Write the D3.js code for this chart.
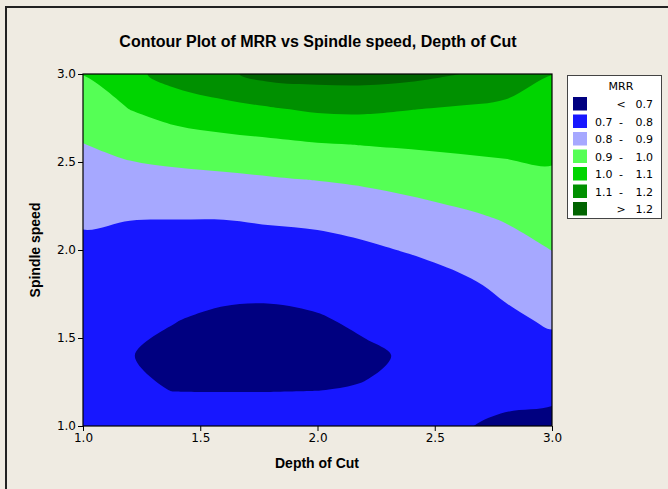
<!DOCTYPE html>
<html>
<head>
<meta charset="utf-8">
<style>
  body {
    margin: 0;
    background-color: #efebe2;
  }
  svg {
    display: block;
  }
  .tick text {
    font-family: "DejaVu Sans", sans-serif;
    font-size: 12px;
    fill: #000;
  }
  .axis-title, .chart-title {
    font-family: "Liberation Sans", Arial, sans-serif;
    font-weight: bold;
    fill: #000;
  }
  .legend text {
    font-family: "DejaVu Sans", sans-serif;
    font-size: 11px;
    fill: #000;
  }
</style>
</head>
<body>
<svg width="668" height="489"></svg>

<script src="https://cdn.jsdelivr.net/npm/d3@7"></script>
<script>
// grid of MRR values
// columns: depth of cut, rows: spindle speed (bottom row first)
const depthLevels = [1.0, 1.2, 1.4, 1.6, 1.8, 2.0, 2.2, 2.4, 2.6, 2.8, 3.0]
const speedLevels = [1.0, 1.2, 1.4, 1.6, 1.8, 2.0, 2.2, 2.4, 2.6, 2.8, 3.0]

const mrrRows = [
  [0.760, 0.755, 0.751, 0.756, 0.761, 0.764, 0.745, 0.725, 0.706, 0.688, 0.674],
  [0.735, 0.706, 0.699, 0.698, 0.698, 0.700, 0.706, 0.715, 0.712, 0.719, 0.720],
  [0.728, 0.702, 0.683, 0.676, 0.673, 0.677, 0.684, 0.712, 0.727, 0.750, 0.766],
  [0.737, 0.715, 0.701, 0.685, 0.681, 0.691, 0.716, 0.735, 0.748, 0.781, 0.812],
  [0.755, 0.735, 0.734, 0.722, 0.721, 0.732, 0.752, 0.760, 0.780, 0.818, 0.856],
  [0.778, 0.760, 0.768, 0.763, 0.765, 0.774, 0.787, 0.806, 0.834, 0.864, 0.901],
  [0.816, 0.808, 0.805, 0.806, 0.815, 0.820, 0.835, 0.865, 0.887, 0.911, 0.942],
  [0.857, 0.866, 0.873, 0.881, 0.892, 0.903, 0.917, 0.931, 0.950, 0.967, 0.984],
  [0.898, 0.929, 0.952, 0.967, 0.980, 0.994, 1.003, 1.011, 1.018, 1.023, 1.024],
  [0.949, 1.001, 1.043, 1.068, 1.091, 1.113, 1.116, 1.102, 1.089, 1.081, 1.063],
  [1.002, 1.076, 1.140, 1.184, 1.232, 1.238, 1.240, 1.228, 1.201, 1.150, 1.101]
]

const levels = [0.7, 0.8, 0.9, 1.0, 1.1, 1.2]
const bandColors = ["#000080", "#1717ff", "#a6a8ff", "#55ff55", "#00d500", "#009000", "#006300"]
const legendLabels = [
  ["", "<", "0.7"],
  ["0.7", "-", "0.8"],
  ["0.8", "-", "0.9"],
  ["0.9", "-", "1.0"],
  ["1.0", "-", "1.1"],
  ["1.1", "-", "1.2"],
  ["", ">", "1.2"]
]
const xTicks = [1.0, 1.5, 2.0, 2.5, 3.0]
const yTicks = [1.0, 1.5, 2.0, 2.5, 3.0]

const svg = d3.select("svg")

// outer frame (only top and left edges fall inside the picture)
svg.append("rect")
  .attr("x", 6).attr("y", 7)
  .attr("width", 700).attr("height", 500)
  .attr("fill", "#efebe2")
  .attr("stroke", "#222")
  .attr("stroke-width", 2)

const plot = { left: 83, right: 552, top: 74, bottom: 426 }

const x = d3.scaleLinear().domain([1, 3]).range([plot.left, plot.right])
const y = d3.scaleLinear().domain([1, 3]).range([plot.bottom, plot.top])

svg.append("text")
  .attr("class", "chart-title")
  .attr("x", 318).attr("y", 47)
  .attr("text-anchor", "middle")
  .attr("font-size", 16)
  .text("Contour Plot of MRR vs Spindle speed, Depth of Cut")

// contours
svg.append("clipPath").attr("id", "plot-clip")
  .append("rect")
  .attr("x", plot.left).attr("y", plot.top)
  .attr("width", plot.right - plot.left)
  .attr("height", plot.bottom - plot.top)

const n = depthLevels.length
const m = speedLevels.length
const values = mrrRows.flat()
const dx = depthLevels[1] - depthLevels[0]
const dy = speedLevels[1] - speedLevels[0]

// d3.contours puts value i at grid coordinate i + 0.5
const toPx = p => [
  x(depthLevels[0] + (p[0] - 0.5) * dx),
  y(speedLevels[0] + (p[1] - 0.5) * dy)
]

// rounded outline through the contour vertices, like the original
const ringLine = d3.line().curve(d3.curveCatmullRomClosed.alpha(0.5))

function bandPath(multi) {
  return multi.coordinates.map(polygon =>
    polygon.map(ring => ringLine(ring.slice(0, -1).map(toPx))).join("")
  ).join("")
}

const contours = d3.contours().size([n, m]).thresholds(levels)(values)

const g = svg.append("g").attr("clip-path", "url(#plot-clip)")

g.append("rect")
  .attr("x", plot.left).attr("y", plot.top)
  .attr("width", plot.right - plot.left)
  .attr("height", plot.bottom - plot.top)
  .attr("fill", bandColors[0])

g.selectAll("path.band")
  .data(contours)
  .join("path")
  .attr("class", "band")
  .attr("d", bandPath)
  .attr("fill-rule", "evenodd")
  .attr("fill", (d, i) => bandColors[i + 1])

svg.append("rect")
  .attr("x", plot.left).attr("y", plot.top)
  .attr("width", plot.right - plot.left)
  .attr("height", plot.bottom - plot.top)
  .attr("fill", "none")
  .attr("stroke", "#000")
  .attr("stroke-width", 1.2)

// axes
const xAxis = svg.append("g")
  .attr("transform", `translate(0,${plot.bottom})`)
  .call(d3.axisBottom(x).tickValues(xTicks).tickFormat(d3.format(".1f")).tickSize(5).tickPadding(2))
const yAxis = svg.append("g")
  .attr("transform", `translate(${plot.left},0)`)
  .call(d3.axisLeft(y).tickValues(yTicks).tickFormat(d3.format(".1f")).tickSize(5).tickPadding(2))

xAxis.select(".domain").remove()
yAxis.select(".domain").remove()
svg.selectAll(".tick line").attr("stroke", "#000")

svg.append("text")
  .attr("class", "axis-title")
  .attr("x", 317).attr("y", 468)
  .attr("text-anchor", "middle")
  .attr("font-size", 14)
  .text("Depth of Cut")

svg.append("text")
  .attr("class", "axis-title")
  .attr("transform", "translate(40,250) rotate(-90)")
  .attr("text-anchor", "middle")
  .attr("font-size", 14)
  .text("Spindle speed")

// legend
const legend = svg.append("g").attr("class", "legend")
const rowStep = 17.5

legend.append("rect")
  .attr("x", 567.5).attr("y", 75.5)
  .attr("width", 94).attr("height", 143)
  .attr("fill", "#fff")
  .attr("stroke", "#444")

legend.append("text")
  .attr("x", 621).attr("y", 90)
  .attr("text-anchor", "middle")
  .text("MRR")

const rows = legend.selectAll("g.row")
  .data(legendLabels)
  .join("g")
  .attr("class", "row")
  .attr("transform", (d, i) => `translate(0,${97 + i * rowStep})`)

rows.append("rect")
  .attr("x", 573).attr("y", 0)
  .attr("width", 14).attr("height", 13.5)
  .attr("fill", (d, i) => bandColors[i])

rows.append("text").attr("x", 595).attr("y", 11).text(d => d[0])
rows.append("text").attr("x", 621).attr("y", 11).attr("text-anchor", "middle").text(d => d[1])
rows.append("text").attr("x", 653).attr("y", 11).attr("text-anchor", "end").text(d => d[2])
</script>
</body>
</html>
